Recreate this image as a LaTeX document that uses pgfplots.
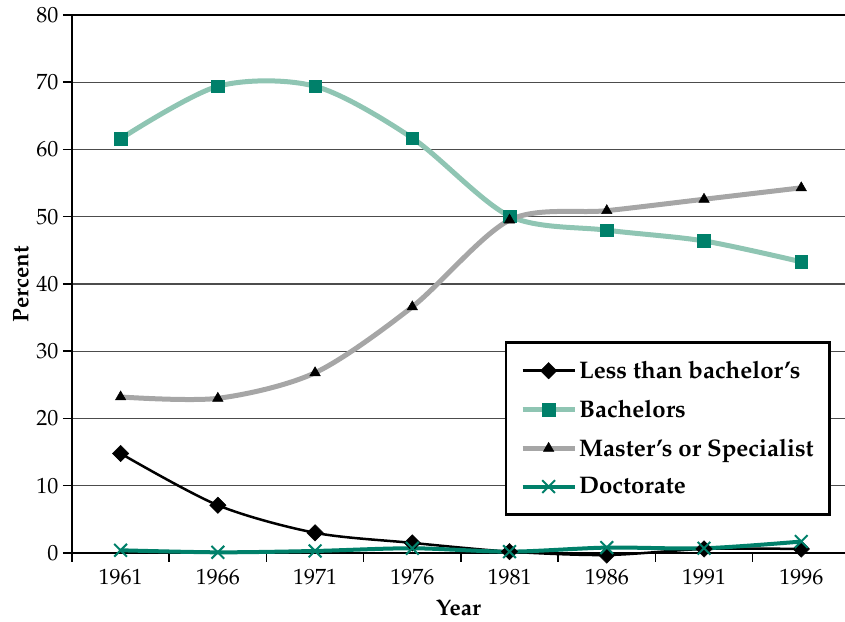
\documentclass[border=0pt]{standalone}
\usepackage[T1]{fontenc}
\usepackage{mathpazo}
\usepackage{pgfplots}
\pgfplotsset{compat=1.18}
\definecolor{bachline}{HTML}{8FC5B3}
\definecolor{tealdark}{HTML}{00806A}
\definecolor{mastline}{HTML}{A6A6A6}
\begin{document}
\begin{tikzpicture}
\begin{axis}[
  scale only axis, width=773pt, height=538pt,
  xmin=-0.5, xmax=7.45, ymin=0, ymax=80,
  axis x line=box, axis y line=left,
  axis line style={-, line width=2pt, black},
  xtick={0,1,2,3,4,5,6,7},
  xticklabels={1961,1966,1971,1976,1981,1986,1991,1996},
  minor xtick={-0.5,0.5,1.5,2.5,3.5,4.5,5.5,6.5},
  xtick pos=bottom, ytick pos=left,
  ytick={0,10,...,80},
  tick align=outside,
  major tick length=9pt, minor tick length=9pt,
  major x tick style={draw=none},
  minor x tick style={line width=1.5pt, black},
  ytick style={line width=1.5pt, black},
  ymajorgrids,
  major grid style={line width=1.2pt, black!70},
  ticklabel style={font=\fontsize{22}{25}\selectfont},
  xticklabel style={yshift=-4pt},
  yticklabel style={xshift=-1pt},
  xlabel={\bfseries Year}, ylabel={\bfseries Percent},
  label style={font=\fontsize{22.5}{25}\selectfont},
  xlabel style={yshift=-8pt},
  ylabel style={yshift=1pt},
  clip=false,
  legend style={at={(0.56,0.394)}, anchor=north west, draw=black, line width=2.5pt,
    font=\fontsize{24}{28}\selectfont\bfseries, row sep=16pt, inner xsep=14pt, inner ysep=17pt},
  legend cell align=left,
  legend image code/.code={\draw[#1, mark repeat=2, mark phase=2] plot coordinates {(0pt,0pt) (26pt,0pt) (52pt,0pt)};},
]
\addplot[black, line width=2.5pt, smooth, tension=0.5, mark=square*, mark size=5.8pt,
  mark options={rotate=45, fill=black, line width=0.5pt}]
  coordinates {(0,14.8) (1,7.1) (2,3.0) (3,1.5) (4,0.2) (5,-0.3) (6,0.6) (7,0.6)};
\addlegendentry{Less than bachelor's}
\addplot[bachline, line width=5pt, smooth, tension=0.5, mark=square*, mark size=6.3pt,
  mark options={fill=tealdark, draw=tealdark, line width=0.5pt}]
  coordinates {(0,61.6) (1,69.4) (2,69.4) (3,61.7) (4,50.1) (5,48.0) (6,46.4) (7,43.3)};
\addlegendentry{Bachelors}
\addplot[mastline, line width=5pt, smooth, tension=0.5, mark=triangle*, mark size=6pt,
  mark options={fill=black, draw=black, line width=0.5pt}]
  coordinates {(0,23.2) (1,23.0) (2,26.8) (3,36.6) (4,49.5) (5,50.9) (6,52.6) (7,54.3)};
\addlegendentry{Master's or Specialist}
\addplot[tealdark, line width=4pt, smooth, tension=0.5, mark=x, mark size=9pt,
  mark options={draw=tealdark, line width=2pt}]
  coordinates {(0,0.4) (1,0.1) (2,0.3) (3,0.7) (4,0.2) (5,0.8) (6,0.7) (7,1.7)};
\addlegendentry{Doctorate}
\end{axis}
\pgfresetboundingbox
\useasboundingbox ([xshift=-72pt,yshift=-69pt]current axis.south west) rectangle ([yshift=15pt]current axis.north east);
\end{tikzpicture}
\end{document}
